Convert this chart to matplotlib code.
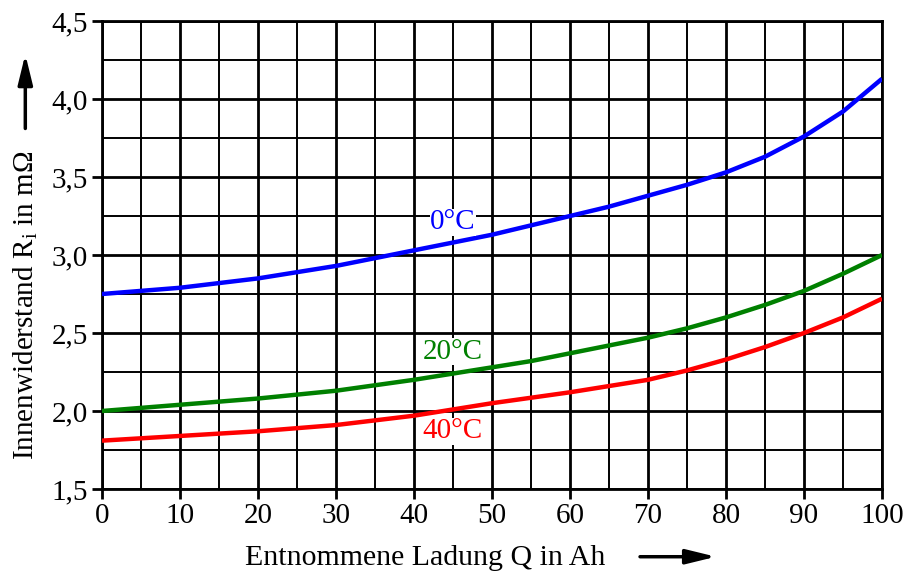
import numpy as np
import matplotlib
matplotlib.use("Agg")
import matplotlib.pyplot as plt
from matplotlib.patches import FancyArrowPatch
from matplotlib.ticker import MultipleLocator, FuncFormatter

plt.rcParams['font.family'] = ['Liberation Serif', 'DejaVu Serif']
plt.rcParams['mathtext.fontset'] = 'custom'
plt.rcParams['mathtext.rm'] = 'Liberation Serif'

# Entnommene Ladung in Ah
Q = [0, 5, 10, 15, 20, 25, 30, 35, 40, 45, 50, 55, 60, 65, 70, 75, 80, 85, 90, 95, 100]

# Innenwiderstand in mOhm bei 0, 20 und 40 Grad
R_0C = [2.75, 2.77, 2.79, 2.82, 2.85, 2.89, 2.93, 2.98, 3.03, 3.08, 3.13,
        3.19, 3.25, 3.31, 3.38, 3.45, 3.53, 3.63, 3.76, 3.92, 4.13]
R_20C = [2.00, 2.02, 2.04, 2.06, 2.08, 2.105, 2.13, 2.165, 2.20, 2.24, 2.28,
         2.32, 2.37, 2.42, 2.47, 2.53, 2.60, 2.68, 2.77, 2.88, 3.00]
R_40C = [1.81, 1.825, 1.84, 1.855, 1.87, 1.89, 1.91, 1.94, 1.97, 2.01, 2.05,
         2.085, 2.12, 2.16, 2.20, 2.26, 2.33, 2.41, 2.50, 2.60, 2.72]

labels = ['0°C', '20°C', '40°C']
label_pos = [(45, 3.21), (45, 2.38), (45, 1.87)]
colors = ['#0000ff', '#008000', '#ff0000']

fig = plt.figure(figsize=(9.04, 5.71), dpi=100)
ax = fig.add_axes([0.1128, 0.1436, 0.8629, 0.8196])

for R, c in zip([R_0C, R_20C, R_40C], colors):
    ax.plot(Q, R, color=c, lw=3.2, solid_capstyle='butt', zorder=3)

for t, (x, y), c in zip(labels, label_pos, colors):
    ax.text(x, y, t, color=c, fontsize=21, ha='center', va='center', zorder=4,
            bbox=dict(facecolor='white', edgecolor='none', pad=0.5))

ax.set_xlim(0, 100)
ax.set_ylim(1.5, 4.5)
ax.xaxis.set_major_locator(MultipleLocator(10))
ax.xaxis.set_minor_locator(MultipleLocator(5))
ax.yaxis.set_major_locator(MultipleLocator(0.5))
ax.yaxis.set_minor_locator(MultipleLocator(0.25))
ax.yaxis.set_major_formatter(FuncFormatter(lambda v, p: f'{v:.1f}'.replace('.', ',')))

ax.grid(which='major', color='black', lw=2.0, zorder=1)
ax.grid(which='minor', color='black', lw=1.4, zorder=1)
ax.set_axisbelow(True)
for s in ax.spines.values():
    s.set_linewidth(2.0)

ax.tick_params(which='major', direction='out', length=7, width=2, labelsize=21, pad=3)
ax.tick_params(which='minor', length=0)

fig.text(0.47, 0.023, 'Entnommene Ladung Q in Ah', fontsize=21.5, ha='center', va='center')
fig.text(0.028, 0.465, r'Innenwiderstand R$_\mathrm{i}$ in mΩ', fontsize=21,
         ha='center', va='center', rotation=90)

arrow = dict(arrowstyle='-|>,head_length=0.9,head_width=0.22', mutation_scale=20,
             color='black', lw=2.5, shrinkA=0, shrinkB=0)
fig.add_artist(FancyArrowPatch((0.708, 0.025), (0.792, 0.025),
                               transform=fig.transFigure, **arrow))
fig.add_artist(FancyArrowPatch((0.028, 0.775), (0.028, 0.905),
                               transform=fig.transFigure, **arrow))

fig.savefig('out.png', dpi=100)
